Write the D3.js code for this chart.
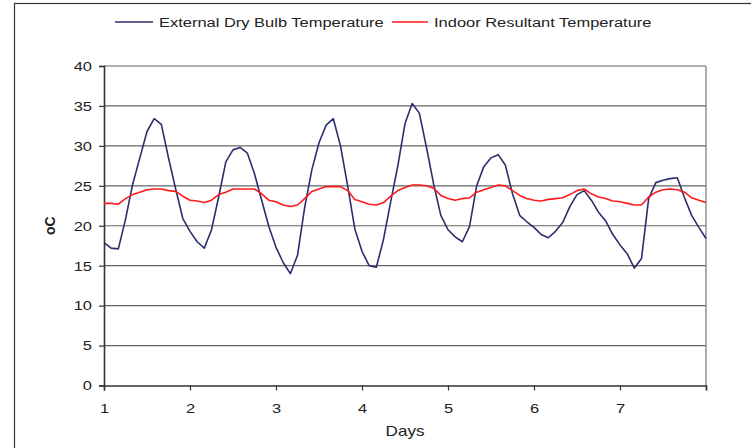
<!DOCTYPE html>
<html lang="en">
<head>
    <title>External and Indoor Temperature</title>
    <script src="https://d3js.org/d3.v7.min.js"></script>
    <style>
        body { margin: 0; background: #fff; }
        text { font-family: "Liberation Sans", Arial, sans-serif; fill: #222; }
    </style>
</head>
<body>
    <div id="chart"></div>

    <script>
        // Series names (legend)
        const seriesNames = ["External Dry Bulb Temperature", "Indoor Resultant Temperature"];

        // Readings every 2 hours, day 1 00:00 to day 8 00:00
        const externalTemp = [
            17.9, 17.2, 17.1, 20.8, 25.2, 28.5, 31.8, 33.4, 32.7, 28.5, 24.6, 20.9,
            19.3, 18.0, 17.2, 19.5, 23.6, 28.0, 29.5, 29.8, 29.1, 26.5, 23.2, 19.9,
            17.3, 15.4, 14.0, 16.3, 22.3, 27.0, 30.4, 32.6, 33.4, 30.0, 25.0, 19.6,
            16.8, 15.0, 14.8, 18.3, 23.0, 27.5, 32.8, 35.3, 34.1, 29.8, 25.2, 21.3,
            19.5, 18.6, 18.0, 19.9, 25.0, 27.4, 28.5, 28.9, 27.6, 24.0, 21.3, 20.5,
            19.8, 18.9, 18.5, 19.3, 20.4, 22.4, 23.9, 24.4, 23.2, 21.7, 20.6, 18.9,
            17.6, 16.5, 14.7, 15.9, 23.4, 25.4, 25.7, 25.9, 26.0, 23.5, 21.3, 19.8,
            18.4
        ];
        const indoorTemp = [
            22.8, 22.8, 22.7, 23.4, 23.9, 24.2, 24.5, 24.6, 24.6, 24.4, 24.3, 23.7,
            23.2, 23.1, 22.9, 23.2, 23.9, 24.2, 24.6, 24.6, 24.6, 24.6, 24.0, 23.2,
            23.0, 22.6, 22.4, 22.6, 23.4, 24.3, 24.6, 24.9, 24.9, 24.9, 24.4, 23.3,
            23.0, 22.7, 22.6, 22.9, 23.7, 24.4, 24.8, 25.1, 25.1, 25.0, 24.7, 23.8,
            23.4, 23.2, 23.4, 23.5, 24.2, 24.5, 24.8, 25.1, 25.0, 24.4, 23.8, 23.4,
            23.2, 23.1, 23.3, 23.4, 23.5, 23.9, 24.4, 24.6, 24.0, 23.6, 23.4, 23.1,
            23.0, 22.8, 22.6, 22.6, 23.6, 24.2, 24.5, 24.6, 24.5, 24.2, 23.5, 23.2,
            22.9
        ];

        // Axis ticks
        const dayTicks = [1, 2, 3, 4, 5, 6, 7, 8];
        const tempTicks = [0, 5, 10, 15, 20, 25, 30, 35, 40];

        const width = 751;
        const height = 448;
        const margin = { top: 66, right: 45, bottom: 62.5, left: 104 };
        const stretch = 1.22;   // text in the picture is drawn a bit wide

        // x in days: 12 readings per day
        const day = i => 1 + i / 12;

        const svg = d3.select("#chart")
            .append("svg")
            .attr("width", width)
            .attr("height", height);

        // Chart frame
        svg.append("rect")
            .attr("x", 14.5).attr("y", 3.5)
            .attr("width", 800).attr("height", 500)
            .attr("fill", "none")
            .attr("stroke", "#333")
            .attr("stroke-width", 1.2);

        const x = d3.scaleLinear()
            .domain([1, 8])
            .range([margin.left, width - margin.right]);

        const y = d3.scaleLinear()
            .domain([0, 40])
            .range([height - margin.bottom, margin.top]);

        // Gridlines
        svg.append("g")
            .selectAll("line")
            .data(tempTicks.slice(1))
            .join("line")
            .attr("x1", x(1)).attr("x2", x(8))
            .attr("y1", d => y(d)).attr("y2", d => y(d))
            .attr("stroke", "#666")
            .attr("stroke-width", 1.2);

        // Right edge of the plot area
        svg.append("line")
            .attr("x1", x(8)).attr("x2", x(8))
            .attr("y1", y(40)).attr("y2", y(0))
            .attr("stroke", "#777")
            .attr("stroke-width", 1.2);

        // Axes
        const xAxis = svg.append("g")
            .attr("transform", `translate(0, ${y(0)})`)
            .call(d3.axisBottom(x).tickValues(dayTicks).tickSize(5)
                .tickFormat(d => d < 8 ? d : ""));

        const yAxis = svg.append("g")
            .attr("transform", `translate(${x(1)}, 0)`)
            .call(d3.axisLeft(y).tickValues(tempTicks).tickSize(5));

        [xAxis, yAxis].forEach(g => {
            g.select(".domain").attr("stroke", "#333").attr("stroke-width", 1.6);
            g.selectAll(".tick line").attr("stroke", "#333").attr("stroke-width", 1.2);
            g.selectAll("text")
                .attr("fill", "#222")
                .style("font-size", "13.5px")
                .style("font-family", "'Liberation Sans', Arial, sans-serif");
        });

        xAxis.selectAll("text")
            .attr("y", 27.5).attr("dy", 0)
            .attr("transform", `scale(${stretch},1)`);
        yAxis.selectAll("text")
            .attr("x", -12 / stretch)
            .attr("transform", `scale(${stretch},1)`);

        // Axis titles
        svg.append("text")
            .attr("transform", `translate(${(x(1) + x(8)) / 2}, 436) scale(${stretch},1)`)
            .attr("text-anchor", "middle")
            .style("font-size", "14px")
            .text("Days");

        svg.append("text")
            .attr("transform", `translate(55, ${(y(0) + y(40)) / 2}) rotate(-90)`)
            .attr("text-anchor", "middle")
            .style("font-size", "14px")
            .style("font-weight", "bold")
            .text("oC");

        // Lines
        const line = d3.line()
            .x((d, i) => x(day(i)))
            .y(d => y(d));

        const colors = ["#2b2e6e", "#ff1a1a"];
        [externalTemp, indoorTemp].forEach((values, k) => {
            svg.append("path")
                .datum(values)
                .attr("d", line)
                .attr("fill", "none")
                .attr("stroke", colors[k])
                .attr("stroke-width", 1.6)
                .attr("stroke-linejoin", "round");
        });

        // Legend
        const legendY = 22;
        const legendItems = [
            { x1: 115, x2: 153, tx: 159 },
            { x1: 392, x2: 428, tx: 434 }
        ];
        legendItems.forEach((item, k) => {
            svg.append("line")
                .attr("x1", item.x1).attr("x2", item.x2)
                .attr("y1", legendY).attr("y2", legendY)
                .attr("stroke", colors[k])
                .attr("stroke-width", 1.6);
            svg.append("text")
                .attr("transform", `translate(${item.tx}, ${legendY}) scale(${stretch},1)`)
                .attr("dy", "0.35em")
                .style("font-size", "13.5px")
                .text(seriesNames[k]);
        });
    </script>
</body>
</html>
